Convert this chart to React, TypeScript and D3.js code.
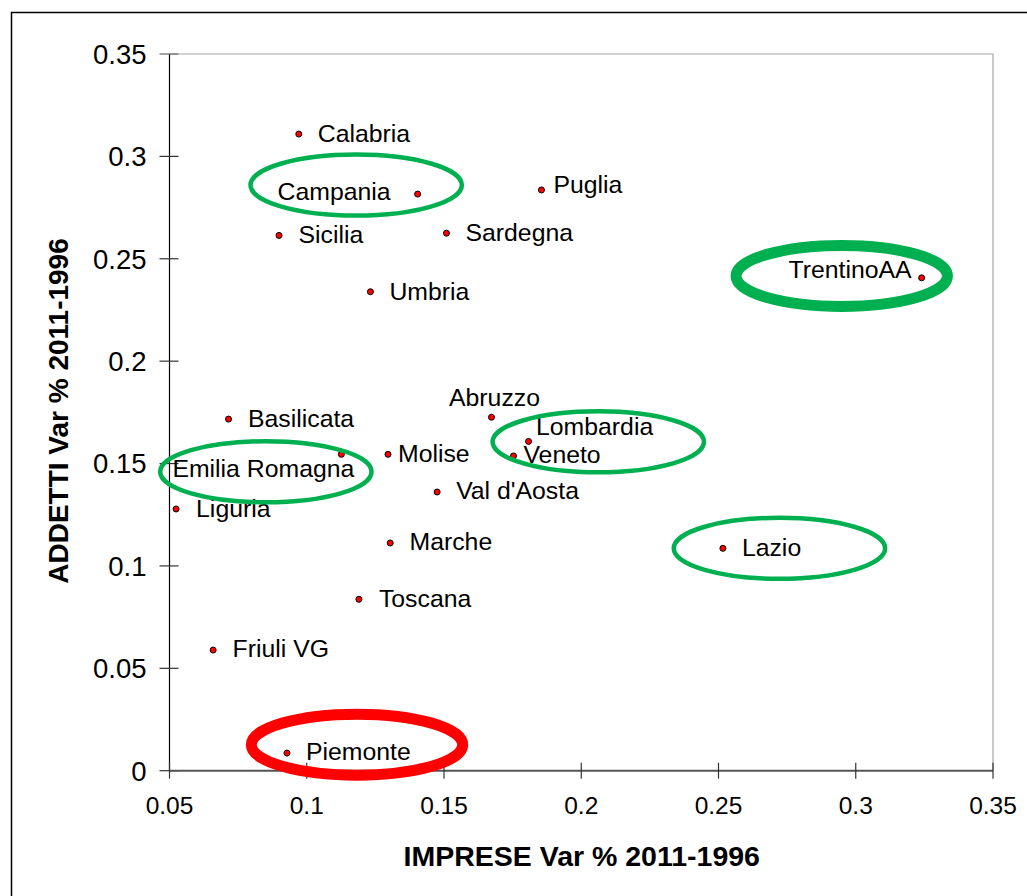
import React, { useRef, useEffect } from 'react';
import * as d3 from 'd3';

// regions and their values (IMPRESE var %, ADDETTI var %)
const regions = [
  'Calabria', 'Campania', 'Puglia', 'Sardegna', 'Sicilia', 'Umbria', 'TrentinoAA',
  'Abruzzo', 'Basilicata', 'Emilia Romagna', 'Molise', 'Lombardia', 'Veneto',
  "Val d'Aosta", 'Liguria', 'Marche', 'Lazio', 'Toscana', 'Friuli VG', 'Piemonte',
];
const impreseVar = [
  0.0971, 0.1404, 0.1855, 0.1509, 0.0899, 0.1232, 0.324,
  0.1673, 0.0715, 0.1126, 0.1296, 0.1808, 0.1753,
  0.1475, 0.0524, 0.1304, 0.2516, 0.119, 0.0659, 0.0928,
];
const addettiVar = [
  0.3109, 0.2816, 0.2836, 0.2625, 0.2614, 0.2339, 0.2407,
  0.1726, 0.1717, 0.1545, 0.1545, 0.1608, 0.1537,
  0.1361, 0.1278, 0.1112, 0.1086, 0.0837, 0.0589, 0.0086,
];

const xTicks = [0.05, 0.1, 0.15, 0.2, 0.25, 0.3, 0.35];
const yTicks = [0, 0.05, 0.1, 0.15, 0.2, 0.25, 0.3, 0.35];

// highlighted groups (ellipse centres in data units)
const highlightX = [0.118, 0.2949, 0.0851, 0.2062, 0.2722, 0.1183];
const highlightY = [0.286, 0.2416, 0.146, 0.1606, 0.1086, 0.0127];
const highlightKind = ['green', 'greenBold', 'green', 'green', 'green', 'red'];

// label placement: [anchor, dx, dy]
const labelPlace: Record<string, [string, number, number]> = {
  Calabria: ['start', 19, 8],
  Campania: ['end', -27, 6],
  Puglia: ['start', 12, 3.5],
  Sardegna: ['start', 19, 8],
  Sicilia: ['start', 19.5, 7.5],
  Umbria: ['start', 19, 8],
  TrentinoAA: ['end', -10, 0.5],
  Abruzzo: ['middle', 3, -11],
  Basilicata: ['start', 19.5, 8],
  'Emilia Romagna': ['middle', -78, 23],
  Molise: ['start', 10, 8],
  Lombardia: ['start', 7.5, -6.3],
  Veneto: ['start', 10, 7.3],
  "Val d'Aosta": ['start', 19, 7.3],
  Liguria: ['start', 20, 7.7],
  Marche: ['start', 19.3, 7],
  Lazio: ['start', 19, 7.7],
  Toscana: ['start', 20, 7.4],
  'Friuli VG': ['start', 19.4, 7.3],
  Piemonte: ['start', 19, 7],
};

const FONT = 'Liberation Sans, Arial, sans-serif';

const App = () => {
  const svgRef = useRef<SVGSVGElement>(null);

  useEffect(() => {
    const svg = d3.select(svgRef.current);
    svg.selectAll('*').remove();

    const left = 169.5;
    const right = 993;
    const top = 54;
    const bottom = 770.7;

    const x = d3.scaleLinear().domain([0.05, 0.35]).range([left, right]);
    const y = d3.scaleLinear().domain([0, 0.35]).range([bottom, top]);

    // outer frame (right/bottom edges fall off the picture)
    svg
      .append('rect')
      .attr('x', 11.5)
      .attr('y', 12.5)
      .attr('width', 1100)
      .attr('height', 1000)
      .attr('fill', 'white')
      .attr('stroke', '#000')
      .attr('stroke-width', 1.5);

    // plot border top/right
    svg
      .append('path')
      .attr('d', `M${left},${top}H${right}V${bottom}`)
      .attr('fill', 'none')
      .attr('stroke', '#a6a6a6')
      .attr('stroke-width', 1.2);

    // y axis
    svg
      .append('line')
      .attr('x1', left).attr('x2', left)
      .attr('y1', top).attr('y2', bottom)
      .attr('stroke', '#000').attr('stroke-width', 1.2);
    const yt = svg.append('g').selectAll('g').data(yTicks).join('g');
    yt.append('line')
      .attr('x1', left - 10).attr('x2', left + 9)
      .attr('y1', (d) => y(d)).attr('y2', (d) => y(d))
      .attr('stroke', (d) => (d === 0.35 ? '#666' : '#333')).attr('stroke-width', 1.2);
    yt.append('text')
      .attr('x', left - 23)
      .attr('y', (d) => y(d) + 9.8)
      .attr('text-anchor', 'end')
      .attr('font-family', FONT)
      .attr('font-size', 27.5)
      .attr('fill', '#000')
      .text((d) => String(+d.toFixed(2)));

    // x axis
    svg
      .append('line')
      .attr('x1', left).attr('x2', right)
      .attr('y1', bottom).attr('y2', bottom)
      .attr('stroke', '#555').attr('stroke-width', 2);
    const xt = svg.append('g').selectAll('g').data(xTicks).join('g');
    xt.append('line')
      .attr('x1', (d) => x(d)).attr('x2', (d) => x(d))
      .attr('y1', bottom - 8).attr('y2', bottom + 8)
      .attr('stroke', '#333').attr('stroke-width', 1.2);
    xt.append('text')
      .attr('x', (d) => x(d))
      .attr('y', bottom + 43.5)
      .attr('text-anchor', 'middle')
      .attr('font-family', FONT)
      .attr('font-size', 24.5)
      .attr('fill', '#000')
      .text((d) => String(+d.toFixed(2)));

    // axis titles
    svg
      .append('text')
      .attr('x', (left + right) / 2 + 0.5)
      .attr('y', 866)
      .attr('text-anchor', 'middle')
      .attr('font-family', FONT)
      .attr('font-weight', 'bold')
      .attr('font-size', 28.5)
      .text('IMPRESE Var % 2011-1996');

    svg
      .append('text')
      .attr('transform', 'translate(68,411) rotate(-90)')
      .attr('text-anchor', 'middle')
      .attr('font-family', FONT)
      .attr('font-weight', 'bold')
      .attr('font-size', 28)
      .text('ADDETTI Var % 2011-1996');

    const data = regions.map((name, i) => ({ name, x: impreseVar[i], y: addettiVar[i] }));

    // points
    svg
      .append('g')
      .selectAll('circle')
      .data(data)
      .join('circle')
      .attr('cx', (d) => x(d.x))
      .attr('cy', (d) => y(d.y))
      .attr('r', 3)
      .attr('fill', '#ff0000')
      .attr('stroke', '#000')
      .attr('stroke-width', 1);

    // labels
    svg
      .append('g')
      .selectAll('text')
      .data(data)
      .join('text')
      .attr('x', (d) => x(d.x) + labelPlace[d.name][1])
      .attr('y', (d) => y(d.y) + labelPlace[d.name][2])
      .attr('text-anchor', (d) => labelPlace[d.name][0])
      .attr('font-family', FONT)
      .attr('font-size', 24.8)
      .attr('fill', '#000')
      .text((d) => d.name);

    // highlight ellipses
    const rx = x(0.05 + 0.0385) - x(0.05);
    const ry = y(0) - y(0.0149);
    const hl = highlightX.map((hx, i) => ({ cx: hx, cy: highlightY[i], kind: highlightKind[i] }));
    svg
      .append('g')
      .selectAll('ellipse')
      .data(hl)
      .join('ellipse')
      .attr('cx', (d) => x(d.cx))
      .attr('cy', (d) => y(d.cy))
      .attr('rx', rx)
      .attr('ry', ry)
      .attr('fill', 'none')
      .attr('stroke', (d) => (d.kind === 'red' ? '#ff0000' : '#00b050'))
      .attr('stroke-width', (d) => (d.kind === 'green' ? 4.5 : 11));
  }, []);

  return (
    <svg
      ref={svgRef}
      width={1027}
      height={896}
      style={{ position: 'absolute', left: 0, top: 0, background: '#fff' }}
    />
  );
};

export default App;
